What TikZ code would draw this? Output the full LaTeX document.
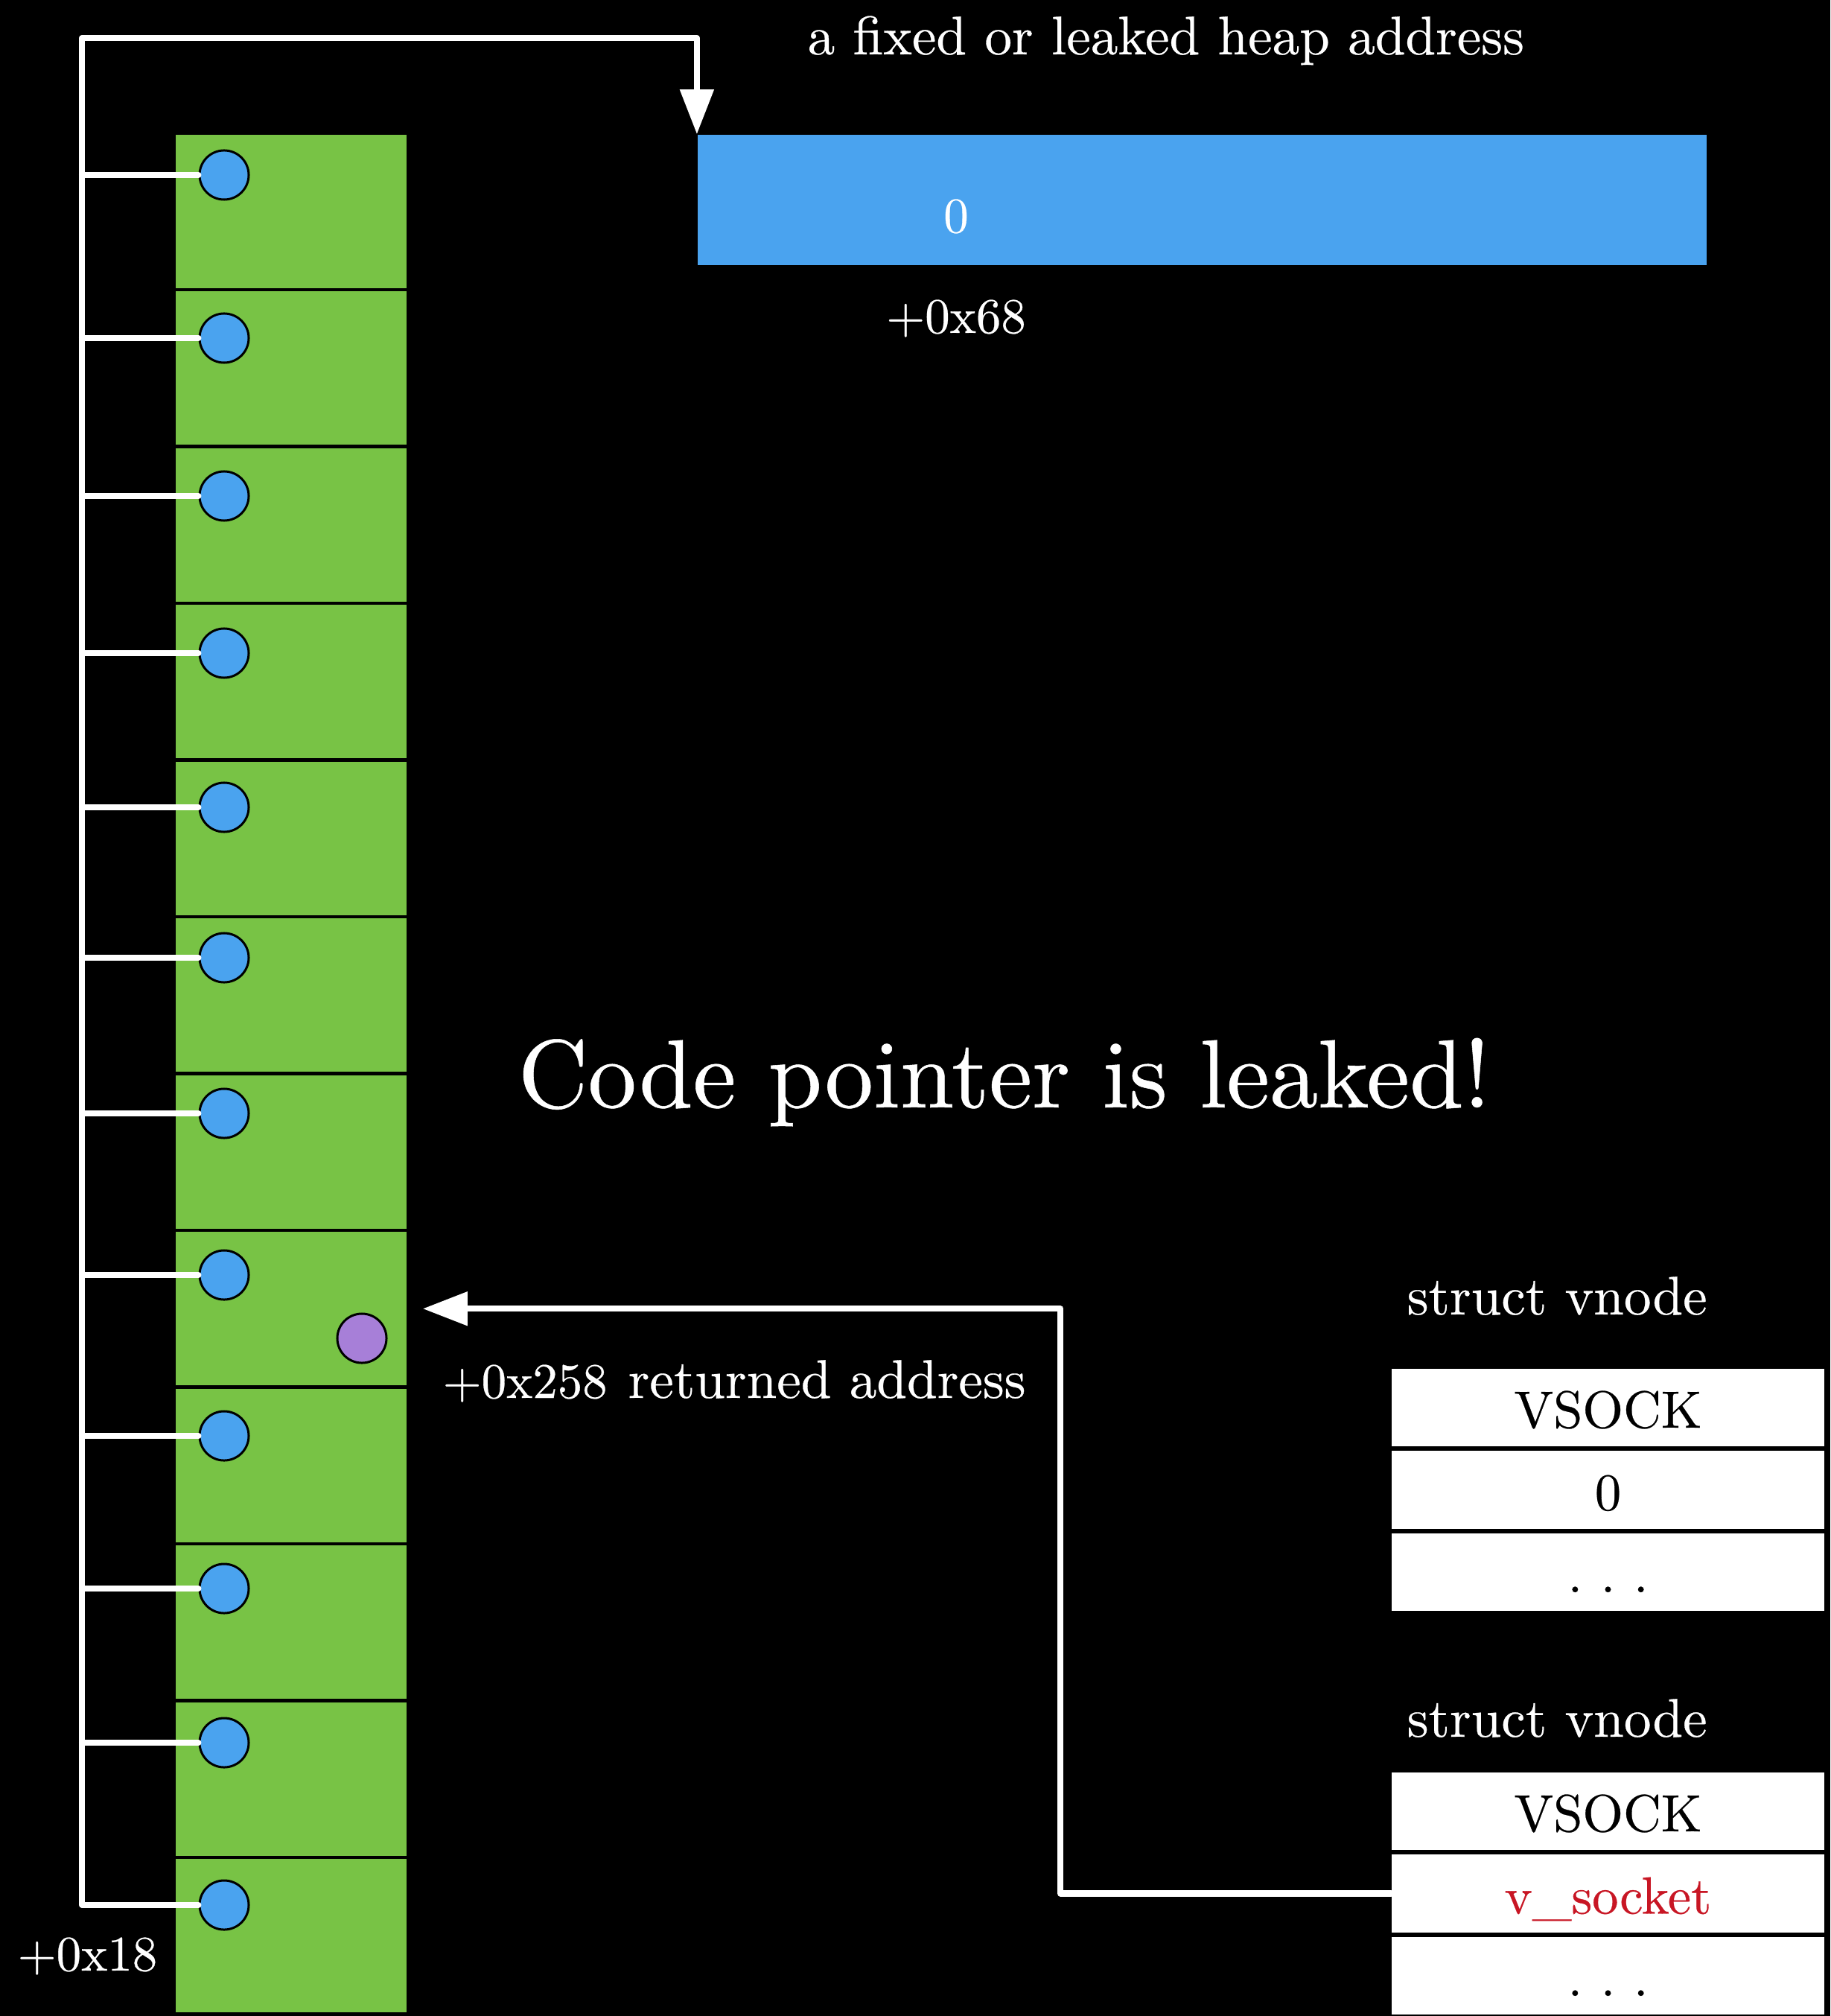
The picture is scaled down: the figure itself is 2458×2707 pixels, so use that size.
\documentclass[tikz,border=0pt]{standalone}
\usepackage{fontspec}
\setmainfont{lmroman10-regular.otf}[FakeBold=0.4]
\usepackage{tikz}
\usetikzlibrary{arrows.meta,positioning}
\usepackage{xcolor}
\definecolor{slotgreen}{RGB}{120,195,69}
\definecolor{ptrblue}{RGB}{74,163,239}
\definecolor{leakpurple}{RGB}{167,127,216}
\definecolor{fieldred}{RGB}{200,22,36}
\tikzstyle{slot} = [rectangle, minimum width=3.1cm, minimum height=2.055cm, fill=slotgreen, inner sep=0]
\tikzstyle{ptr} = [circle, minimum size=0.66cm, inner sep=0, draw=black, line width=0.03cm, fill=ptrblue]
\tikzstyle{field} = [rectangle, minimum width=5.81cm, minimum height=1.04cm, fill=white, text=black, inner sep=0, text height=0.54cm, text depth=0cm, font=\fontsize{20}{24}\selectfont]
\tikzstyle{lbl} = [text=white, inner sep=0, anchor=base west, font=\fontsize{20.8}{25}\selectfont]
\tikzstyle{off} = [lbl, font=\fontsize{19}{23}\selectfont]
\tikzstyle{link} = [draw=white, line width=0.08cm, line join=round, line cap=round]
\tikzstyle{arrow} = [link, -{Triangle[length=0.6cm,width=0.44cm]}]
\newcommand{\wdots}{.\kern0.35em.\kern0.35em.}

\begin{document}
\begin{tikzpicture}[x=0.01cm, y=-0.01cm]
\fill[black] (0,0) rectangle (2458,2707);
\useasboundingbox (0,0) rectangle (2458,2707);

% heap slots with pointers
\foreach \i/\cy in {1/235, 2/454, 3/666, 4/877, 5/1084, 6/1286, 7/1495, 8/1712, 9/1928, 10/2133, 11/2340, 12/2558} {
  \node[slot] (s\i) at (391, {181+210.5*(\i-1)+102.75}) {};
  \node[ptr] (p\i) at (301, \cy) {};
}
\node[ptr, fill=leakpurple] (ret) at (486, 1797) {};

% target chunk
\node[rectangle, fill=ptrblue, minimum width=13.55cm, minimum height=1.75cm, inner sep=0] (heap) at (1614.5, 268.5) {};
\node[off, anchor=base] (zero) at (1284, 312) {0};
\node[off, anchor=base] (off68) at (1284, 447) {+0x68};
\node[lbl] (fixed) at (1084, 73) {a fixed or leaked heap address};

% pointers into the chunk
\coordinate (bus) at (110, 51);
\foreach \i in {1,...,11} \draw[link] (p\i.west) -- (p\i.west -| bus);
\draw[arrow] (p12.west) -| (bus) -| (heap.north west);
\node[off] (off18) at (23, 2646) {+0x18};

\node[lbl, font=\fontsize{37}{44}\selectfont] (leak) at (695, 1487) {Code pointer is leaked!};

% vnodes
\node[lbl] (vn1) at (1889, 1765) {struct vnode};
\node[field] (vs1) at (2159.5, 1890) {VSOCK};
\node[field, below=0.05cm of vs1] (zf) {0};
\node[field, below=0.05cm of zf] (more1) {\wdots};

\node[lbl] (vn2) at (1889, 2332) {struct vnode};
\node[field] (vs2) at (2159.5, 2432) {VSOCK};
\node[field, below=0.05cm of vs2, text=fieldred] (sock) {v\_socket};
\node[field, below=0.05cm of sock] (more2) {\wdots};

\draw[arrow, shorten >=0.21cm] (sock.west) -- ++(-444,0) |- (s8.east);
\node[off] (off258) at (594, 1877) {+0x258};
\node[lbl] (retaddr) at (843, 1877) {returned address};
\end{tikzpicture}
\end{document}
